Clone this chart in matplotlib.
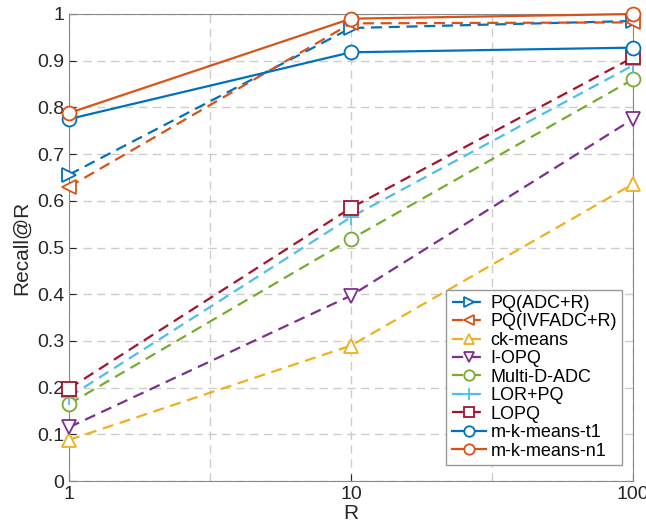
import matplotlib
matplotlib.use("Agg")
import matplotlib.pyplot as plt

plt.rcParams["font.family"] = ["Liberation Sans", "DejaVu Sans"]

# R 取值与各方法的 Recall@R
R = [1, 10, 100]
names = ["PQ(ADC+R)", "PQ(IVFADC+R)", "ck-means", "I-OPQ", "Multi-D-ADC",
         "LOR+PQ", "LOPQ", "m-k-means-t1", "m-k-means-n1"]
pq_adc_r = [0.656, 0.970, 0.985]
pq_ivfadc_r = [0.630, 0.980, 0.982]
ck_means = [0.088, 0.290, 0.636]
i_opq = [0.115, 0.397, 0.775]
multi_d_adc = [0.165, 0.518, 0.860]
lor_pq = [0.180, 0.565, 0.890]
lopq = [0.198, 0.585, 0.907]
mkm_t1 = [0.775, 0.918, 0.928]
mkm_n1 = [0.788, 0.990, 1.000]
values = [pq_adc_r, pq_ivfadc_r, ck_means, i_opq, multi_d_adc, lor_pq, lopq, mkm_t1, mkm_n1]

# 颜色和线型（MATLAB 默认配色）
colors = ["#0072BD", "#D95319", "#EDB120", "#7E2F8E", "#77AC30",
          "#4DBEEE", "#A2142F", "#0072BD", "#D95319"]
markers = [">", "<", "^", "v", "o", "+", "s", "o", "o"]
styles = ["--"] * 7 + ["-", "-"]

fig = plt.figure(figsize=(6.46, 5.27), dpi=100)
ax = fig.add_axes([69 / 646, 1 - 481 / 527, (633 - 69) / 646, (481 - 14) / 527])

for name, v, c, m, ls in zip(names, values, colors, markers, styles):
    ax.plot(R, v, linestyle=ls, color=c, marker=m, markersize=10 if m != "+" else 11,
            markerfacecolor="white" if m != "+" else c, markeredgewidth=1.3,
            linewidth=1.6, label=name, clip_on=False, zorder=3,
            dashes=(5, 3) if ls == "--" else (None, None))

ax.set_xscale("log")
ax.set_xlim(1, 100)
ax.set_ylim(0, 1)
ax.set_xticks(R)
ax.set_xticklabels(["1", "10", "100"])
ax.minorticks_off()
ax.set_yticks([i / 10 for i in range(11)])
ax.set_yticklabels(["0", "0.1", "0.2", "0.3", "0.4", "0.5", "0.6", "0.7", "0.8", "0.9", "1"])
ax.set_xticks([3.1623, 31.623], minor=True)
ax.tick_params(which="minor", length=0)
ax.grid(True, which="both", linestyle=(0, (6, 4)), color="#cccccc", linewidth=1)
ax.tick_params(labelsize=14, direction="in", colors="#262626", length=5)
for s in ax.spines.values():
    s.set_color("#888888")
ax.set_xlabel("R", fontsize=15, labelpad=1, color="#262626")
ax.set_ylabel("Recall@R", fontsize=15, labelpad=4, color="#262626")

leg = ax.legend(loc="lower right", fontsize=13, handlelength=1.9, handletextpad=0.25,
                labelspacing=0.08, borderpad=0.3, fancybox=False, framealpha=1,
                edgecolor="#999999", bbox_to_anchor=(0.997, 0.015), markerscale=0.75)

fig.savefig("out.png", dpi=100)
